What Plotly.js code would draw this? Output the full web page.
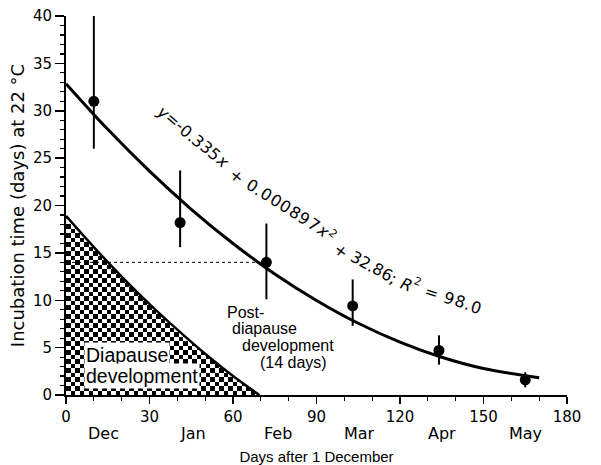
<!DOCTYPE html>
<html>
<head>
<meta charset="utf-8">
<script src="https://cdn.plot.ly/plotly-3.0.1.min.js"></script>
<style>html,body{margin:0;padding:0;background:#fff;}#chart{width:601px;height:465px;}</style>
</head>
<body>
<div id="chart"></div>
<script>
// Observed data (days after 1 December vs incubation time at 22 °C)
const obsX = [10, 41, 72, 103, 134, 165];
const obsY = [31.0, 18.2, 14.0, 9.4, 4.7, 1.6];
const errPlus = [9.0, 5.5, 4.1, 2.8, 1.6, 0.8];
const errMinus = [5.0, 2.6, 3.9, 2.1, 1.5, 0.8];

// Fitted curve
const fitX = [0, 15, 30, 45, 60, 75, 90, 105, 120, 135, 150, 170];
const fitY = [32.86, 28.04, 23.62, 19.60, 15.99, 12.78, 9.98, 7.57, 5.58, 3.98, 2.79, 1.83];

// Diapause development boundary
const diaX = [0, 10, 20, 30, 40, 50, 60, 69.5];
const diaY = [18.9, 15.6, 12.5, 9.6, 6.9, 4.35, 2.0, 0];

// Post-diapause reference level (14 days)
const postX = [0, 72];
const postY = [14, 14];

// Axis labels
const months = ['Dec', 'Jan', 'Feb', 'Mar', 'Apr', 'May'];
const monthX = [13.4, 45.7, 76.3, 105.3, 135, 165.2];

// Equation label pieces
const eqPieces = [
  {s: 'y', it: true}, {s: '=-0.335'}, {s: 'x', it: true}, {s: ' + 0.000897'}, {s: 'x', it: true},
  {s: '2', sup: true}, {s: ' + 32.86; '}, {s: 'R', it: true}, {s: '2', sup: true}, {s: ' = 98.0'}
];

// ---------- styling helpers ----------
// Checkerboard fill (style only)
const cellDx = 1.62, cellDy = 0.475;
const nx = Math.ceil(71 / cellDx), ny = Math.ceil(19.4 / cellDy);
const hx = [], hy = [], hz = [];
for (let i = 0; i < nx; i++) hx.push((i + 0.5) * cellDx);
for (let j = 0; j < ny; j++) {
  hy.push((j + 0.5) * cellDy);
  const row = [];
  for (let i = 0; i < nx; i++) row.push((i + j) % 2);
  hz.push(row);
}
const maskX = [0].concat(diaX, [76, 76, 0]);
const maskY = [20].concat(diaY, [0, 20, 20]);

const traces = [
  {type: 'heatmap', x: hx, y: hy, z: hz, colorscale: [[0, '#ffffff'], [1, '#000000']],
   showscale: false, zsmooth: false, hoverinfo: 'skip'},
  {type: 'scatter', mode: 'lines', x: maskX, y: maskY, fill: 'toself', fillcolor: '#ffffff',
   line: {width: 0, color: 'rgba(0,0,0,0)'}, hoverinfo: 'skip', showlegend: false},
  {type: 'scatter', mode: 'lines', x: diaX, y: diaY, line: {color: '#000', width: 2.5, shape: 'spline'},
   showlegend: false},
  {type: 'scatter', mode: 'lines', x: postX, y: postY, line: {color: '#000', width: 1, dash: 'dot'},
   showlegend: false},
  {type: 'scatter', mode: 'lines', x: fitX, y: fitY, line: {color: '#000', width: 3, shape: 'spline'},
   showlegend: false},
  {type: 'scatter', mode: 'markers', x: obsX, y: obsY,
   marker: {color: '#000', size: 11},
   error_y: {type: 'data', symmetric: false, array: errPlus, arrayminus: errMinus,
             color: '#000', thickness: 2, width: 0},
   showlegend: false}
];

function px(X) { return (X - 66) / 501; }
function py(Y) { return (395 - Y) / 379; }

const annotations = [];
months.forEach((m, i) => annotations.push({
  x: monthX[i], xref: 'x', y: py(433), yref: 'paper', text: m, showarrow: false,
  xanchor: 'center', yanchor: 'middle', font: {family: 'DejaVu Sans', size: 16, color: '#000'}
}));

// Equation text laid out character by character along a gently curving baseline
try {
  const FS = 16, SUPFS = 11, RAISE = 5.5;
  const ctx = document.createElement('canvas').getContext('2d');
  const chars = [];
  eqPieces.forEach(p => { for (const c of p.s) chars.push({c: c, it: !!p.it, sup: !!p.sup}); });
  let adv = 0;
  chars.forEach(ch => {
    const fs = ch.sup ? SUPFS : FS;
    ctx.font = (ch.it ? 'italic ' : '') + fs + 'px "DejaVu Sans"';
    const w = ctx.measureText(ch.c).width;
    ch.s = adv + w / 2; adv += w;
  });
  const last = chars.length - 1;
  // guide points (pixel) at selected characters
  const guides = {};
  guides[0] = [163.5, 112];
  guides[8] = [222, 161];
  guides[10] = [236, 176];
  guides[20] = [323, 230];
  guides[23] = [341, 250];
  guides[30] = [393.6, 278];
  guides[32] = [406, 284];
  guides[last] = [476, 307];
  const keys = Object.keys(guides).map(Number).filter(k => k <= last).sort((a, b) => a - b);
  chars.forEach((ch, i) => {
    let a = keys[0], b = keys[keys.length - 1];
    for (let k = 0; k < keys.length - 1; k++) if (i >= keys[k] && i <= keys[k + 1]) { a = keys[k]; b = keys[k + 1]; break; }
    const t = (ch.s - chars[a].s) / (chars[b].s - chars[a].s);
    ch.X = guides[a][0] + t * (guides[b][0] - guides[a][0]);
    ch.Y = guides[a][1] + t * (guides[b][1] - guides[a][1]);
  });
  chars.forEach((ch, i) => {
    const p = chars[Math.max(0, i - 2)], n = chars[Math.min(last, i + 2)];
    const ang = Math.atan2(n.Y - p.Y, n.X - p.X);
    let X = ch.X, Y = ch.Y;
    if (ch.sup) { X += RAISE * Math.sin(ang); Y -= RAISE * Math.cos(ang); }
    if (ch.c === ' ') return;
    annotations.push({x: px(X), y: py(Y), xref: 'paper', yref: 'paper',
      text: ch.it ? '<i>' + ch.c + '</i>' : ch.c, textangle: ang * 180 / Math.PI,
      showarrow: false, xanchor: 'center', yanchor: 'middle', borderpad: 0,
      font: {family: 'DejaVu Sans', size: ch.sup ? SUPFS : FS, color: '#000'}});
  });
} catch (e) { console.error(e); }

const diaFont = {family: 'Liberation Sans', size: 19.5, color: '#000'};
annotations.push({x: 6.3, y: 4.22, xref: 'x', yref: 'y', text: 'Diapause', showarrow: false,
  xanchor: 'left', yanchor: 'middle', bgcolor: '#ffffff', borderpad: 1, font: diaFont});
annotations.push({x: 6.3, y: 2.0, xref: 'x', yref: 'y', text: 'development', showarrow: false,
  xanchor: 'left', yanchor: 'middle', bgcolor: '#ffffff', borderpad: 1, font: diaFont});

const postFont = {family: 'Liberation Sans', size: 16, color: '#000'};
const postLines = [
  {t: 'Post-', x: 57.1, y: 8.76},
  {t: 'diapause', x: 58.9, y: 7.07},
  {t: 'development', x: 62.5, y: 5.22},
  {t: '(14 days)', x: 69.0, y: 3.48}
];
postLines.forEach(l => annotations.push({x: l.x, y: l.y, xref: 'x', yref: 'y', text: l.t,
  showarrow: false, xanchor: 'left', yanchor: 'middle', font: postFont}));

const layout = {
  width: 601, height: 465,
  margin: {l: 66, r: 34, t: 16, b: 70},
  paper_bgcolor: '#fff', plot_bgcolor: '#fff',
  showlegend: false,
  xaxis: {
    range: [0, 180], dtick: 30, tick0: 0, showgrid: false, zeroline: false,
    showline: true, linecolor: '#000', linewidth: 2,
    ticks: 'outside', ticklen: 7, tickwidth: 1.5, tickcolor: '#000',
    tickfont: {family: 'DejaVu Sans', size: 15, color: '#000'},
    minor: {dtick: 10, ticks: 'outside', ticklen: 4, tickwidth: 1.2, tickcolor: '#000'},
    title: {text: 'Days after 1 December', standoff: 26,
            font: {family: 'Liberation Sans', size: 15, color: '#000'}},
    automargin: false
  },
  yaxis: {
    range: [0, 40], dtick: 5, tick0: 0, showgrid: false, zeroline: false,
    showline: true, linecolor: '#000', linewidth: 2,
    ticks: 'outside', ticklen: 9, tickwidth: 1.5, tickcolor: '#000',
    tickfont: {family: 'DejaVu Sans', size: 15, color: '#000'},
    minor: {dtick: 1, ticks: 'outside', ticklen: 4, tickwidth: 1.2, tickcolor: '#000'},
    title: {text: 'Incubation time (days) at 22 °C', standoff: 4,
            font: {family: 'DejaVu Sans', size: 18, color: '#000'}},
    automargin: false
  },
  annotations: annotations
};

Plotly.newPlot('chart', traces, layout, {displayModeBar: false, staticPlot: true});
</script>
</body>
</html>
